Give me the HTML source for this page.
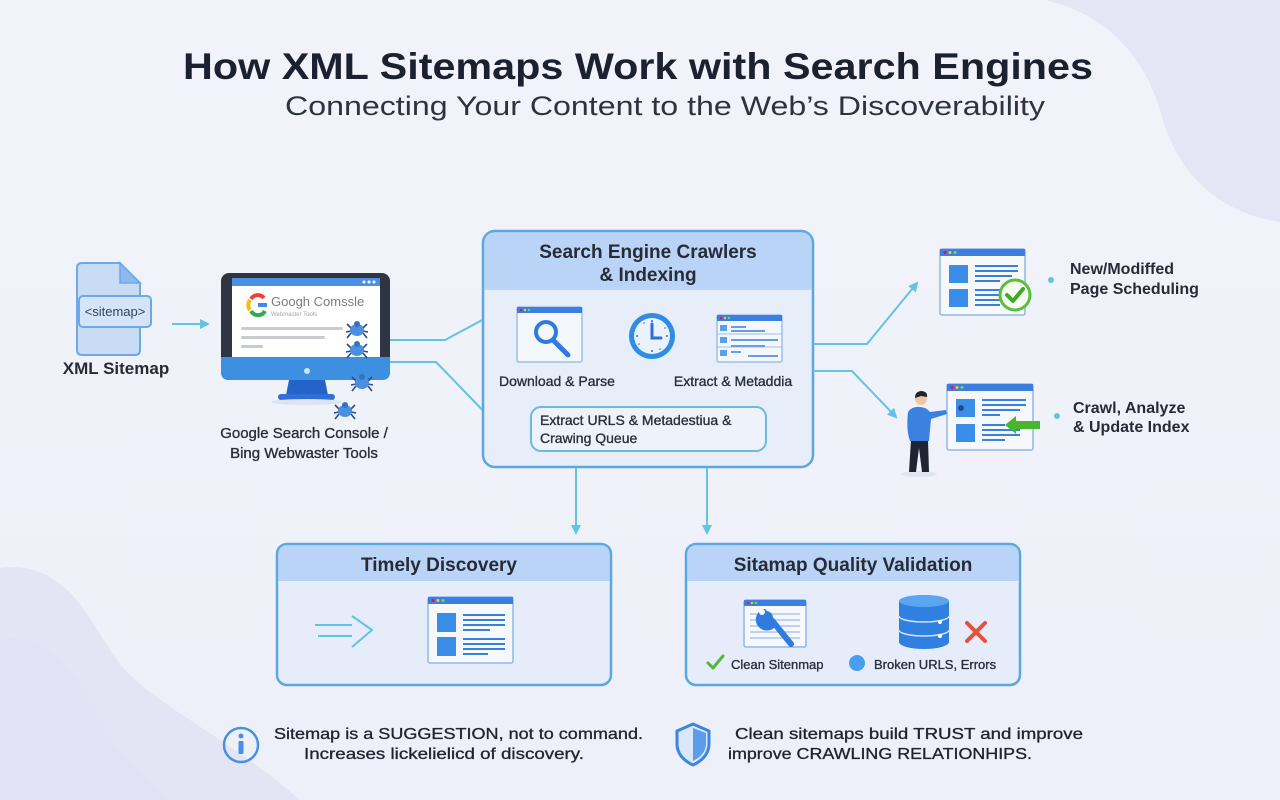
<!DOCTYPE html>
<html><head><meta charset="utf-8"><style>
html,body{margin:0;padding:0;width:1280px;height:800px;overflow:hidden;background:#f1f3fa;}
svg{display:block}
text{font-family:"Liberation Sans",sans-serif;}
.med{stroke:#2a2f3a;stroke-width:0.35;}
</style></head><body>
<svg width="1280" height="800" viewBox="0 0 1280 800" xmlns="http://www.w3.org/2000/svg">
<defs>
<linearGradient id="bg" x1="0" y1="0" x2="0" y2="1"><stop offset="0" stop-color="#f2f3fa"/><stop offset="1" stop-color="#eef0f9"/></linearGradient>
<marker id="ah" viewBox="0 0 10 10" refX="8" refY="5" markerWidth="5" markerHeight="5" orient="auto"><path d="M0,0 L10,5 L0,10 z" fill="#62c3e2"/></marker>
<g id="spider">
<path d="M-6,-1 l-4,-4 M-6,2 l-5,1 M-6,4 l-4,5 M6,-1 l4,-4 M6,2 l5,1 M6,4 l4,5" stroke="#2a4a8a" stroke-width="1.6" fill="none"/>
<ellipse cx="0" cy="1" rx="7" ry="6" fill="#4a8fe0"/>
<circle cx="0" cy="-5" r="3" fill="#3a70c0"/>
</g>
</defs>
<rect width="1280" height="800" fill="url(#bg)"/>
<!-- background blobs -->
<path d="M1045,0 C1110,15 1145,60 1160,110 C1175,170 1215,212 1280,222 L1280,0 Z" fill="#e4e6f6"/>
<path d="M0,568 C60,560 85,610 110,650 C140,700 220,730 300,800 L0,800 Z" fill="#e3e5f4"/>
<path d="M0,640 C50,630 80,680 100,720 C120,760 150,780 170,800 L0,800 Z" fill="#dfe1f3" opacity="0.7"/>

<!-- Title -->
<text x="638" y="79" text-anchor="middle" font-size="37" font-weight="bold" fill="#1c2130" textLength="910" lengthAdjust="spacingAndGlyphs">How XML Sitemaps Work with Search Engines</text>
<text x="665" y="115" text-anchor="middle" font-size="27" fill="#2e3340" textLength="760" lengthAdjust="spacingAndGlyphs">Connecting Your Content to the Web’s Discoverability</text>

<!-- XML Sitemap doc -->
<path d="M77,268 q0,-5 5,-5 H120 L140,283 V350 q0,5 -5,5 H82 q-5,0 -5,-5 Z" fill="#c9dcf6" stroke="#6ea8e8" stroke-width="2"/>
<path d="M120,263 V283 H140 Z" fill="#8fb8ee" stroke="#6ea8e8" stroke-width="1.5"/>
<rect x="79" y="296" width="72" height="31" rx="4" fill="#d4e4f9" stroke="#6ea8e8" stroke-width="2"/>
<text x="115" y="316" text-anchor="middle" font-size="13" fill="#33445f">&lt;sitemap&gt;</text>
<text x="116" y="374" text-anchor="middle" font-size="17" font-weight="bold" fill="#262b36">XML Sitemap</text>
<line x1="172" y1="324" x2="208" y2="324" stroke="#62c3e2" stroke-width="2" marker-end="url(#ah)"/>

<!-- Monitor -->
<rect x="221" y="273" width="169" height="107" rx="8" fill="#2f3542"/>
<rect x="232" y="278" width="148" height="79" fill="#ffffff"/>
<rect x="232" y="278" width="148" height="8" fill="#4a90e2"/>
<circle cx="364" cy="282" r="1.5" fill="#fff"/><circle cx="369" cy="282" r="1.5" fill="#fff"/><circle cx="374" cy="282" r="1.5" fill="#fff"/>
<path d="M221,357 H390 V372 q0,8 -8,8 H229 q-8,0 -8,-8 Z" fill="#3d8fe0"/>
<circle cx="307" cy="371" r="3" fill="#cfe4fb"/>
<path d="M289,380 H325 L328,395 H286 Z" fill="#2563c9"/>
<rect x="278" y="394" width="57" height="6" rx="3" fill="#2f6fd6"/>
<ellipse cx="307" cy="402" rx="36" ry="3" fill="#dde3f0"/>
<!-- Google G -->
<path d="M258,305 h9" stroke="#4285f4" stroke-width="4"/>
<path d="M250,300 a8,8 0 0,0 0,10" stroke="#fbbc05" stroke-width="4" fill="none"/>
<path d="M251,311 a8,8 0 0,0 14,0" stroke="#34a853" stroke-width="4" fill="none"/>
<path d="M251,299 a8,8 0 0,1 13,-1" stroke="#ea4335" stroke-width="4" fill="none"/>
<text x="271" y="306" font-size="13" fill="#777c86">Googh Comssle</text>
<text x="271" y="316" font-size="6" fill="#a0a4ad">Webmaster Tools</text>
<rect x="241" y="327" width="102" height="3" rx="1.5" fill="#c8cbd2"/>
<rect x="241" y="336" width="84" height="3" rx="1.5" fill="#c8cbd2"/>
<rect x="241" y="345" width="22" height="3" rx="1.5" fill="#c8cbd2"/>
<use href="#spider" x="357" y="329"/>
<use href="#spider" x="357" y="349"/>
<use href="#spider" x="362" y="382"/>
<use href="#spider" x="345" y="410"/>
<text class="med" x="304" y="438" text-anchor="middle" font-size="15" fill="#2a2f3a">Google Search Console /</text>
<text class="med" x="304" y="458" text-anchor="middle" font-size="15" fill="#2a2f3a">Bing Webwaster Tools</text>

<!-- connectors monitor -> center -->
<polyline points="390,340 445,340 499,311" fill="none" stroke="#62c3e2" stroke-width="2" marker-end="url(#ah)"/>
<polyline points="390,362 436,362 497,425" fill="none" stroke="#62c3e2" stroke-width="2" marker-end="url(#ah)"/>

<!-- Center box -->
<rect x="483" y="231" width="330" height="236" rx="12" fill="#e7eefa" stroke="#5aa7e2" stroke-width="2.5"/>
<path d="M484.5,290 V243 q0,-10.5 10.5,-10.5 H801 q10.5,0 10.5,10.5 V290 Z" fill="#b9d4f6"/>
<text x="648" y="258" text-anchor="middle" font-size="19" font-weight="bold" fill="#262b36">Search Engine Crawlers</text>
<text x="648" y="281" text-anchor="middle" font-size="19" font-weight="bold" fill="#262b36">&amp; Indexing</text>
<!-- download window -->
<rect x="517" y="307" width="65" height="55" rx="2" fill="#f4f7fc" stroke="#9cc0ea" stroke-width="1.5"/>
<rect x="517" y="307" width="65" height="6" fill="#3d7fe0"/>
<circle cx="521" cy="310" r="1.2" fill="#f06"/><circle cx="525" cy="310" r="1.2" fill="#fc0"/><circle cx="529" cy="310" r="1.2" fill="#6d6"/>
<circle cx="546" cy="332" r="10" fill="none" stroke="#2f7be0" stroke-width="4"/>
<line x1="553" y1="340" x2="568" y2="355" stroke="#2f7be0" stroke-width="5" stroke-linecap="round"/>
<text class="med" x="557" y="386" text-anchor="middle" font-size="14" fill="#2a2f3a">Download &amp; Parse</text>
<!-- clock -->
<circle cx="652" cy="336" r="23" fill="#2f8de6"/>
<circle cx="652" cy="336" r="18" fill="#eaf3fd"/>
<path d="M652,324 V338 H661" stroke="#2f6fd6" stroke-width="3" fill="none" stroke-linecap="round"/>
<g fill="#2f6fd6"><circle cx="652" cy="321" r="1"/><circle cx="652" cy="351" r="1"/><circle cx="637" cy="336" r="1"/><circle cx="667" cy="336" r="1"/><circle cx="644" cy="323" r="0.8"/><circle cx="660" cy="349" r="0.8"/><circle cx="639" cy="344" r="0.8"/><circle cx="665" cy="328" r="0.8"/></g>
<!-- list window -->
<rect x="717" y="315" width="65" height="47" rx="2" fill="#f4f7fc" stroke="#9cc0ea" stroke-width="1.5"/>
<rect x="717" y="315" width="65" height="6" fill="#3d7fe0"/>
<circle cx="721" cy="318" r="1.2" fill="#f06"/><circle cx="725" cy="318" r="1.2" fill="#fc0"/><circle cx="729" cy="318" r="1.2" fill="#6d6"/>
<g fill="#5b9fea"><rect x="720" y="325" width="7" height="6"/><rect x="720" y="337" width="7" height="6"/><rect x="720" y="350" width="7" height="6"/></g>
<g stroke="#3a7fe0" stroke-width="1.5"><line x1="731" y1="327" x2="746" y2="327"/><line x1="731" y1="331" x2="765" y2="331"/><line x1="731" y1="340" x2="778" y2="340"/><line x1="731" y1="346" x2="765" y2="346"/><line x1="731" y1="352" x2="741" y2="352"/><line x1="748" y1="356" x2="778" y2="356"/></g>
<line x1="717" y1="334" x2="782" y2="334" stroke="#9cc0ea"/><line x1="717" y1="347" x2="782" y2="347" stroke="#9cc0ea"/>
<text class="med" x="733" y="386" text-anchor="middle" font-size="14" fill="#2a2f3a">Extract &amp; Metaddia</text>
<!-- inner box -->
<rect x="531" y="407" width="235" height="44" rx="10" fill="#eef3fb" stroke="#6bb8e0" stroke-width="2"/>
<text class="med" x="540" y="425" font-size="14" fill="#2a2f3a">Extract URLS &amp; Metadestiua &amp;</text>
<text class="med" x="540" y="443" font-size="14" fill="#2a2f3a">Crawing Queue</text>

<!-- connectors center -> right -->
<polyline points="813,344 867,344 917,283" fill="none" stroke="#62c3e2" stroke-width="2" marker-end="url(#ah)"/>
<polyline points="813,371 852,371 896,417" fill="none" stroke="#62c3e2" stroke-width="2" marker-end="url(#ah)"/>

<!-- top right window -->
<rect x="940" y="249" width="85" height="66" rx="2" fill="#f6f8fc" stroke="#8db8ea" stroke-width="1.5"/>
<rect x="940" y="249" width="85" height="7" fill="#3d7fe0"/>
<circle cx="945" cy="252.5" r="1.5" fill="#f06"/><circle cx="950" cy="252.5" r="1.5" fill="#fc0"/><circle cx="955" cy="252.5" r="1.5" fill="#6d6"/>
<rect x="949" y="265" width="19" height="18" fill="#3b8ee8"/><rect x="949" y="289" width="19" height="18" fill="#3b8ee8"/>
<g stroke="#3a80e0" stroke-width="2"><line x1="975" y1="266" x2="1018" y2="266"/><line x1="975" y1="271" x2="1018" y2="271"/><line x1="975" y1="276" x2="1012" y2="276"/><line x1="975" y1="281" x2="1000" y2="281"/><line x1="975" y1="290" x2="1000" y2="290"/><line x1="975" y1="295" x2="1000" y2="295"/><line x1="975" y1="300" x2="1000" y2="300"/><line x1="975" y1="305" x2="1000" y2="305"/></g>
<circle cx="1015" cy="295" r="15" fill="#f4fbf0" stroke="#5cbf3a" stroke-width="3"/>
<path d="M1007,295 L1013,301 L1023,289" stroke="#43a82a" stroke-width="4" fill="none" stroke-linecap="round" stroke-linejoin="round"/>
<circle cx="1051" cy="280" r="3" fill="#62c3e2"/>
<text x="1070" y="274" font-size="16" font-weight="bold" fill="#262b36">New/Modiffed</text>
<text x="1070" y="294" font-size="16" font-weight="bold" fill="#262b36">Page Scheduling</text>

<!-- person + window -->
<rect x="947" y="384" width="86" height="66" rx="2" fill="#f6f8fc" stroke="#8db8ea" stroke-width="1.5"/>
<rect x="947" y="384" width="86" height="7" fill="#3d7fe0"/>
<circle cx="952" cy="387.5" r="1.5" fill="#f06"/><circle cx="957" cy="387.5" r="1.5" fill="#fc0"/><circle cx="962" cy="387.5" r="1.5" fill="#6d6"/>
<rect x="956" y="399" width="19" height="18" fill="#3b8ee8"/><rect x="956" y="424" width="19" height="18" fill="#3b8ee8"/>
<g stroke="#3a80e0" stroke-width="2"><line x1="982" y1="400" x2="1026" y2="400"/><line x1="982" y1="405" x2="1026" y2="405"/><line x1="982" y1="410" x2="1020" y2="410"/><line x1="982" y1="415" x2="1000" y2="415"/><line x1="982" y1="425" x2="1005" y2="425"/><line x1="982" y1="430" x2="1020" y2="430"/><line x1="982" y1="435" x2="1020" y2="435"/><line x1="982" y1="440" x2="1005" y2="440"/></g>
<path d="M1005,425 L1016,416 V421 H1040 V429 H1016 V434 Z" fill="#4cb52e"/>
<circle cx="961" cy="408" r="3" fill="#2a4a8a"/>
<ellipse cx="919" cy="474" rx="18" ry="3" fill="#e1e5ef"/>
<path d="M911,440 L909,472 H916 L919,448 L922,472 H929 L928,440 Z" fill="#1f2433"/>
<path d="M908,412 Q912,406 920,407 Q926,407 930,412 L946,410 L947,414 L931,419 L929,441 L910,441 Q906,430 908,412 Z" fill="#3b82e0"/>
<circle cx="921" cy="399" r="6" fill="#f1c7a3"/>
<path d="M915,398 Q915,391 922,391 Q928,392 927,397 L921,396 Z" fill="#1f2433"/>
<circle cx="1057" cy="416" r="3" fill="#62c3e2"/>
<text x="1073" y="413" font-size="16" font-weight="bold" fill="#262b36">Crawl, Analyze</text>
<text x="1073" y="432" font-size="16" font-weight="bold" fill="#262b36">&amp; Update Index</text>

<!-- down arrows -->
<line x1="576" y1="468" x2="576" y2="533" stroke="#62c3e2" stroke-width="2" marker-end="url(#ah)"/>
<line x1="707" y1="468" x2="707" y2="533" stroke="#62c3e2" stroke-width="2" marker-end="url(#ah)"/>

<!-- Timely Discovery -->
<rect x="277" y="544" width="334" height="141" rx="10" fill="#e6ecf9" stroke="#5aa7e2" stroke-width="2.5"/>
<path d="M278.5,581 V554 q0,-8.5 8.5,-8.5 H601 q8.5,0 8.5,8.5 V581 Z" fill="#b9d4f6"/>
<text x="439" y="571" text-anchor="middle" font-size="19" font-weight="bold" fill="#262b36">Timely Discovery</text>
<path d="M315,625 H352 M318,636 H352 M352,616 L372,630 L352,647" stroke="#62c3e2" stroke-width="2" fill="none" stroke-linejoin="round"/>
<rect x="428" y="597" width="85" height="66" rx="2" fill="#f6f8fc" stroke="#8db8ea" stroke-width="1.5"/>
<rect x="428" y="597" width="85" height="7" fill="#3d7fe0"/>
<circle cx="433" cy="600.5" r="1.5" fill="#f06"/><circle cx="438" cy="600.5" r="1.5" fill="#fc0"/><circle cx="443" cy="600.5" r="1.5" fill="#6d6"/>
<rect x="437" y="613" width="19" height="19" fill="#3b8ee8"/><rect x="437" y="637" width="19" height="19" fill="#3b8ee8"/>
<g stroke="#3a80e0" stroke-width="2"><line x1="463" y1="615" x2="505" y2="615"/><line x1="463" y1="620" x2="505" y2="620"/><line x1="463" y1="625" x2="505" y2="625"/><line x1="463" y1="630" x2="490" y2="630"/><line x1="463" y1="639" x2="505" y2="639"/><line x1="463" y1="644" x2="505" y2="644"/><line x1="463" y1="649" x2="505" y2="649"/><line x1="463" y1="654" x2="488" y2="654"/></g>

<!-- Sitamap Quality Validation -->
<rect x="686" y="544" width="334" height="141" rx="10" fill="#e6ecf9" stroke="#5aa7e2" stroke-width="2.5"/>
<path d="M687.5,581 V554 q0,-8.5 8.5,-8.5 H1010 q8.5,0 8.5,8.5 V581 Z" fill="#b9d4f6"/>
<text x="853" y="571" text-anchor="middle" font-size="19" font-weight="bold" fill="#262b36">Sitamap Quality Validation</text>
<rect x="744" y="600" width="62" height="47" rx="2" fill="#f6f8fc" stroke="#8db8ea" stroke-width="1.5"/>
<rect x="744" y="600" width="62" height="6" fill="#3d7fe0"/>
<circle cx="748" cy="603" r="1.2" fill="#f06"/><circle cx="752" cy="603" r="1.2" fill="#fc0"/><circle cx="756" cy="603" r="1.2" fill="#6d6"/>
<g stroke="#a8c6ee" stroke-width="1.5"><line x1="750" y1="614" x2="800" y2="614"/><line x1="750" y1="620" x2="800" y2="620"/><line x1="750" y1="626" x2="800" y2="626"/><line x1="750" y1="632" x2="800" y2="632"/><line x1="750" y1="638" x2="800" y2="638"/></g>
<path d="M764,612 a8,8 0 1,0 10,11 L791,644" stroke="#2f7be0" stroke-width="6" fill="none" stroke-linecap="round"/>
<circle cx="766" cy="618" r="7" fill="#2f7be0"/><circle cx="762" cy="612" r="3" fill="#f6f8fc"/>
<ellipse cx="924" cy="602" rx="25" ry="7" fill="#3b8ee8"/>
<rect x="899" y="602" width="50" height="40" fill="#2f80e0"/>
<ellipse cx="924" cy="642" rx="25" ry="7" fill="#2f80e0"/>
<path d="M899,616 a25,6 0 0,0 50,0 M899,630 a25,6 0 0,0 50,0" stroke="#cfe3fb" stroke-width="1.5" fill="none"/>
<circle cx="940" cy="622" r="2" fill="#fff"/><circle cx="940" cy="636" r="2" fill="#fff"/>
<ellipse cx="924" cy="601" rx="25" ry="6" fill="#5aa6f0"/>
<path d="M967,623 L985,641 M985,623 L967,641" stroke="#e8503e" stroke-width="4" stroke-linecap="round"/>
<path d="M708,663 L713,668 L723,656" stroke="#52b83a" stroke-width="3" fill="none" stroke-linecap="round" stroke-linejoin="round"/>
<text class="med" x="731" y="669" font-size="13" fill="#2a2f3a">Clean Sitenmap</text>
<circle cx="857" cy="663" r="8" fill="#4a9ef0"/>
<text class="med" x="874" y="669" font-size="13" fill="#2a2f3a">Broken URLS, Errors</text>

<!-- bottom notes -->
<circle cx="241" cy="745" r="17" fill="none" stroke="#4a90e2" stroke-width="2.5"/>
<circle cx="241" cy="736" r="2.5" fill="#4a90e2"/>
<rect x="238.5" y="741" width="5" height="13" rx="1" fill="#4a90e2"/>
<text class="med" x="274" y="739" font-size="16" fill="#1e2330" textLength="369" lengthAdjust="spacingAndGlyphs">Sitemap is a SUGGESTION, not to command.</text>
<text class="med" x="304" y="759" font-size="16" fill="#1e2330" textLength="280" lengthAdjust="spacingAndGlyphs">Increases lickelielicd of discovery.</text>
<path d="M693,724 L709,731 V745 Q708,758 693,765 Q678,758 677,745 V731 Z" fill="#dbe8fb" stroke="#3d86e0" stroke-width="3" stroke-linejoin="round"/>
<path d="M693,728 V761 Q705,755 706,745 V733 Z" fill="#5a9eea"/>
<text class="med" x="735" y="739" font-size="16" fill="#1e2330" textLength="348" lengthAdjust="spacingAndGlyphs">Clean sitemaps build TRUST and improve</text>
<text class="med" x="728" y="759" font-size="16" fill="#1e2330" textLength="304" lengthAdjust="spacingAndGlyphs">improve CRAWLING RELATIONHIPS.</text>
</svg>
</body></html>
